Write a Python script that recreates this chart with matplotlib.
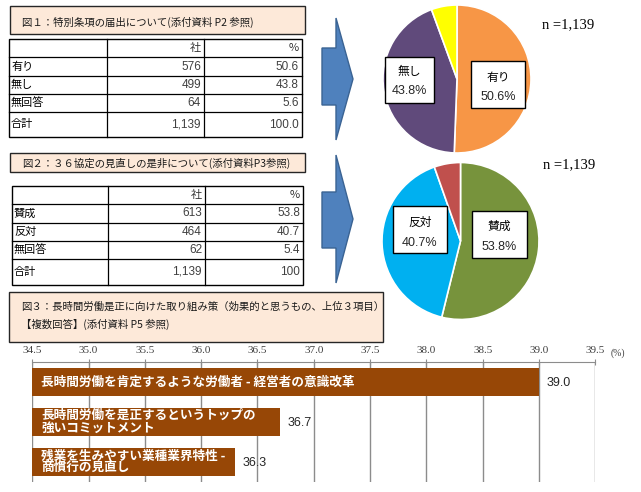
import matplotlib
matplotlib.use("Agg")
import matplotlib.pyplot as plt
from matplotlib.patches import Rectangle, Polygon

plt.rcParams['font.family'] = ['Noto Sans CJK JP', 'DejaVu Sans']

# ---- data ----
cap1 = "図１：特別条項の届出について(添付資料 P2 参照)"
t1_rows = ['有り', '無し', '無回答', '合計']
t1_counts = ['576', '499', '64', '1,139']
t1_pcts = ['50.6', '43.8', '5.6', '100.0']
pie1_names = ['有り', '無し', '無回答']
pie1_vals = [50.6, 43.8, 5.6]
pie1_colors = ['#f79646', '#604a7b', '#ffff00']

cap2 = "図２：３６協定の見直しの是非について(添付資料P3参照)"
t2_rows = ['賛成', '反対', '無回答', '合計']
t2_counts = ['613', '464', '62', '1,139']
t2_pcts = ['53.8', '40.7', '5.4', '100']
pie2_names = ['賛成', '反対', '無回答']
pie2_vals = [53.8, 40.7, 5.4]
pie2_colors = ['#77933c', '#00b0f0', '#c0504d']

n_text = "n =1,139"

cap3 = ["図３：長時間労働是正に向けた取り組み策（効果的と思うもの、上位３項目）",
        "【複数回答】(添付資料 P5 参照)"]
bar_labels = ["長時間労働を肯定するような労働者 - 経営者の意識改革",
              "長時間労働を是正するというトップの\n強いコミットメント",
              "残業を生みやすい業種業界特性 - \n商慣行の見直し"]
bar_vals = [39.0, 36.7, 36.3]
bar_ticks = [34.5, 35.0, 35.5, 36.0, 36.5, 37.0, 37.5, 38.0, 38.5, 39.0, 39.5]

W, H = 641, 492
fig = plt.figure(figsize=(W / 100, H / 100), dpi=100)


def px_axes(x0, y0, x1, y1, **kw):
    # axes placed by pixel box (top-left origin)
    return fig.add_axes([x0 / W, 1 - y1 / H, (x1 - x0) / W, (y1 - y0) / H], **kw)


# ---- pies ----
def draw_pie(cx, cy, r, vals, colors):
    ax = px_axes(cx - r, cy - r, cx + r, cy + r)
    ax.pie(vals, colors=colors, startangle=90, counterclock=False,
           wedgeprops=dict(edgecolor='white', linewidth=1.2))
    ax.set_xlim(-1, 1)
    ax.set_ylim(-1, 1)
    ax.set_aspect('auto')
    ax.axis('off')
    return ax

draw_pie(457, 79, 74, pie1_vals, pie1_colors)
draw_pie(460.5, 241, 78.5, pie2_vals, pie2_colors)

# ---- bar chart ----
bx = px_axes(32.3, 362, 595.3, 482)
ypos = list(range(len(bar_vals)))
bx.barh(ypos, [v - bar_ticks[0] for v in bar_vals], left=bar_ticks[0],
        height=0.72, color='#974706', zorder=3)
bx.set_xlim(bar_ticks[0], bar_ticks[-1])
bx.set_ylim(2.5, -0.5)
bx.set_xticks(bar_ticks)
bx.set_xticklabels([f"{t:.1f}" for t in bar_ticks], family='Liberation Serif',
                   fontsize=8, color='#404040')
bx.xaxis.tick_top()
bx.tick_params(axis='x', direction='inout', length=4, color='#8c8c8c', pad=3)
bx.set_yticks([])
bx.grid(axis='x', color='#8c8c8c', linewidth=1, zorder=0)
for s in ['left', 'right', 'bottom']:
    bx.spines[s].set_visible(False)
bx.spines['top'].set_color('#8c8c8c')
bx.set_facecolor('none')
spacing = [1.0, 0.95, 0.85]
for i, (lab, v) in enumerate(zip(bar_labels, bar_vals)):
    t = bx.text(bar_ticks[0] + 0.08, i, lab, color='white', fontsize=9.1,
                fontweight='bold', va='center', ha='left', zorder=4,
                linespacing=spacing[i])
    t.set_clip_on(True)
    bx.text(v + 0.07, i + 0.03, f"{v:.1f}", family='Liberation Sans',
            fontsize=9, color='#262626', va='center', ha='left', zorder=4)
bx.text(1.028, 1.03, "(%)", transform=bx.transAxes, family='Liberation Serif',
        fontsize=7, color='#404040', va='bottom', ha='left')

# ---- overlay: captions, tables, arrows, boxes ----
ov = fig.add_axes([0, 0, 1, 1], zorder=10)
ov.set_xlim(0, W)
ov.set_ylim(H, 0)
ov.axis('off')
ov.patch.set_alpha(0)


def caption(x0, y0, x1, y1, lines, ys):
    ov.add_patch(Rectangle((x0, y0), x1 - x0, y1 - y0, facecolor='#fde9d9',
                           edgecolor='#262626', linewidth=1))
    for line, y in zip(lines, ys):
        ov.text(x0 + 12, y, line, fontsize=7.5, va='center', ha='left', color='#1a1a1a')


def table(x0, x1, cols, rows_y, names, counts, pcts):
    ov.add_patch(Rectangle((x0, rows_y[0]), x1 - x0, rows_y[-1] - rows_y[0],
                           fill=False, edgecolor='black', linewidth=1))
    for c in cols:
        ov.plot([c, c], [rows_y[0], rows_y[-1]], color='black', lw=0.9)
    for y in rows_y[1:-1]:
        ov.plot([x0, x1], [y, y], color='black', lw=0.9)
    hy = (rows_y[0] + rows_y[1]) / 2
    ov.text(cols[1] - 3, hy, "社", fontsize=8, ha='right', va='center', color='#333333')
    ov.text(x1 - 3, hy, "%", fontsize=8, ha='right', va='center', color='#333333')
    for k in range(len(names)):
        y = (rows_y[k + 1] + rows_y[k + 2]) / 2
        ov.text(x0 + 2, y, names[k], fontsize=8, ha='left', va='center', color='black')
        ov.text(cols[1] - 3, y, counts[k], family='Liberation Sans', fontsize=8.5,
                ha='right', va='center', color='#404040')
        ov.text(x1 - 3, y, pcts[k], family='Liberation Sans', fontsize=8.5,
                ha='right', va='center', color='#404040')


caption(10, 6, 305, 34, [cap1], [22])
table(9, 302, [107, 204], [39, 57, 76, 94, 112, 137], t1_rows, t1_counts, t1_pcts)
caption(10, 153, 305, 172, [cap2], [163])
table(12, 303, [108, 205], [186, 204, 223, 241, 259, 285], t2_rows, t2_counts, t2_pcts)
caption(9, 292, 383, 342, cap3, [307, 324])


def arrow(top, s_top, s_bot, bot):
    mid = (top + bot) / 2
    pts = [(322, s_top), (336, s_top), (336, top), (353, mid),
           (336, bot), (336, s_bot), (322, s_bot)]
    ov.add_patch(Polygon(pts, closed=True, facecolor='#4f81bd',
                         edgecolor='#3a6393', linewidth=1))

arrow(18, 48, 105, 140)
arrow(155, 192, 248, 283)


def pie_box(x0, y0, x1, y1, name, val, y_name, y_val):
    ov.add_patch(Rectangle((x0, y0), x1 - x0, y1 - y0, facecolor='white',
                           edgecolor='black', linewidth=1))
    cx = (x0 + x1) / 2
    ov.text(cx, y_name, name, fontsize=8.5, ha='center', va='center')
    ov.text(cx, y_val, f"{val}%", family='Liberation Sans', fontsize=9,
            ha='center', va='center', color='#262626')

pie_box(471, 61, 525, 108, pie1_names[0], pie1_vals[0], 77, 97)
pie_box(385, 57, 434, 103, pie1_names[1], pie1_vals[1], 71, 91)
pie_box(472, 211, 527, 258, pie2_names[0], pie2_vals[0], 226, 247)
pie_box(393, 206, 447, 253, pie2_names[1], pie2_vals[1], 222, 243)

ov.text(542, 25, n_text, family='Liberation Serif', fontsize=10.5, ha='left', va='center')
ov.text(543, 165, n_text, family='Liberation Serif', fontsize=10.5, ha='left', va='center')

fig.savefig("out.png", dpi=100)
